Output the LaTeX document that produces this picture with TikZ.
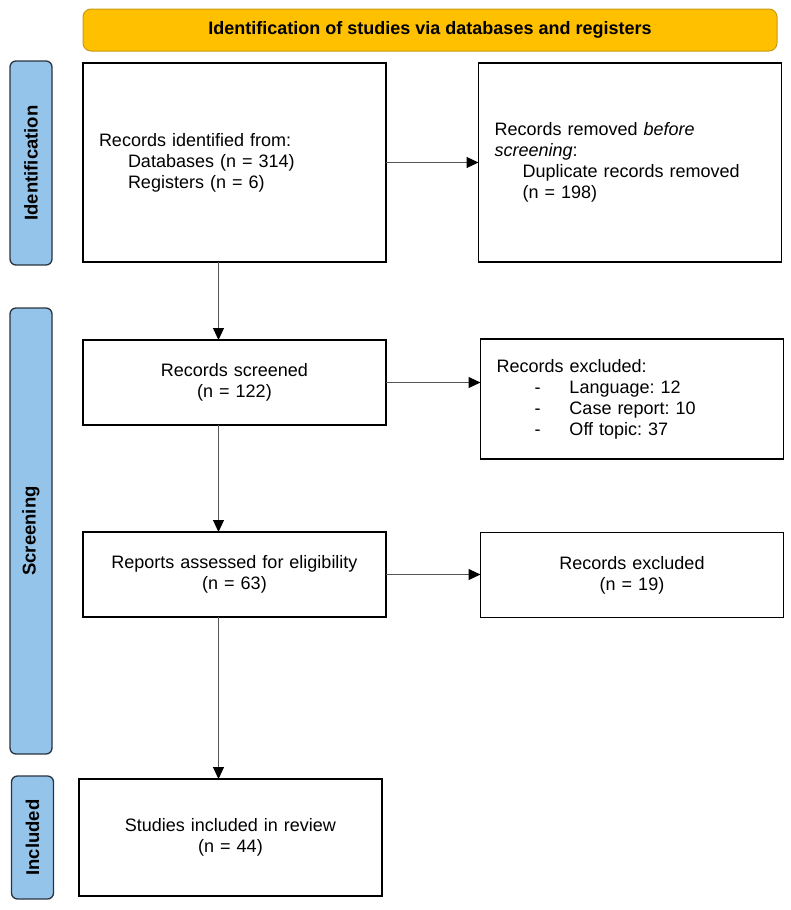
\documentclass[tikz,border=0pt]{standalone}
\usepackage{fontspec}
\setmainfont{Liberation Sans}
\usetikzlibrary{arrows.meta,calc}
\definecolor{bannerfill}{HTML}{FFC000}
\definecolor{bannerdraw}{HTML}{C99A10}
\definecolor{phasefill}{HTML}{94C4EA}
\definecolor{phasedraw}{HTML}{2A3440}
\definecolor{linkgray}{HTML}{555555}
\frenchspacing
\begin{document}
\begin{tikzpicture}[x=1pt,y=-1pt,
  every node/.style={font=\fontsize{18}{21}\selectfont},
  flowbox/.style={draw=black,line width=1.4pt,fill=white,inner xsep=16pt,inner ysep=0pt,outer sep=0pt,minimum width=303pt,text width=271pt},
  banner/.style={draw=bannerdraw,fill=bannerfill,line width=1pt,rounded corners=8pt,minimum width=694pt,minimum height=42pt,inner sep=0pt,font=\fontsize{18}{21}\selectfont\bfseries},
  phase/.style={draw=phasedraw,fill=phasefill,line width=1.3pt,rounded corners=6pt,inner sep=0pt,minimum width=42pt,font=\fontsize{18.5}{21}\selectfont\bfseries},
  arr/.style={draw=linkgray,line width=1pt,-{Triangle[length=12pt,width=11pt,fill=black,color=black]}}
]
\useasboundingbox (0,0) rectangle (791,910);

\node[banner] (ban) at (430,30) {Identification of studies via databases and registers};

\node[phase,minimum height=204pt] (pid) at (31,163) {\rotatebox{90}{Identification}};
\node[phase,minimum height=446pt] (pscr) at (31,531) {\rotatebox{90}{Screening}};
\node[phase,minimum height=123pt] (pinc) at (32.5,837.5) {\rotatebox{90}{Included}};

\node[flowbox,minimum height=199pt,align=left] (b1) at (234.5,162.5)
  {Records identified from:\\\hspace*{29pt}Databases (n = 314)\\\hspace*{29pt}Registers (n = 6)};
\node[flowbox,minimum height=199pt,align=left] (b2) at (630,162.5)
  {Records removed \textit{before}\\\textit{screening}:\\\hspace*{28pt}Duplicate records removed\\\hspace*{28pt}(n = 198)};
\node[flowbox,minimum height=85pt,align=center] (b3) at (234.5,382.5)
  {Records screened\\(n = 122)};
\node[flowbox,minimum height=120pt,align=left] (b4) at (632,399)
  {Records excluded:\\\hspace*{38pt}-\hspace*{29pt}Language: 12\\\hspace*{38pt}-\hspace*{29pt}Case report: 10\\\hspace*{38pt}-\hspace*{29pt}Off topic: 37};
\node[flowbox,minimum height=85pt,align=center] (b5) at (234.5,574.5)
  {Reports assessed for eligibility\\(n = 63)};
\node[flowbox,minimum height=85pt,align=center] (b6) at (632,575)
  {Records excluded\\(n = 19)};
\node[flowbox,minimum height=117pt,align=center] (b7) at (230.5,837.5)
  {Studies included in review\\(n = 44)};

\coordinate (col) at (218.5,0);

\draw[arr] (b1.east) -- (b2.west);
\draw[arr] (b3.east) -- (b3.east -| b4.west);
\draw[arr] (b5.east) -- (b5.east -| b6.west);
\draw[arr] (b1.south -| col) -- (b3.north -| col);
\draw[arr] (b3.south -| col) -- (b5.north -| col);
\draw[arr] (b5.south -| col) -- (b7.north -| col);
\end{tikzpicture}
\end{document}
